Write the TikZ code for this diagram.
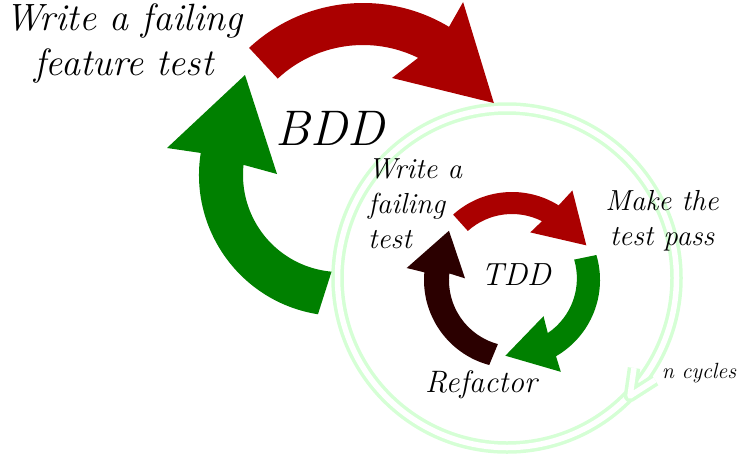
\documentclass[tikz,border=0pt]{standalone}
\usepackage{fontspec}
\definecolor{bddred}{HTML}{AA0000}
\definecolor{bddgreen}{HTML}{008000}
\definecolor{tddbrown}{HTML}{2B0000}
\definecolor{ringgreen}{HTML}{D5FFD5}
\begin{document}
\begin{tikzpicture}[x=1pt,y=-1pt,
  lbl/.style={inner sep=0pt, text=black},
  ring/.style={draw=ringgreen, line width=3.5pt, double=white, double distance=5.5pt},
]
\useasboundingbox (0,0) rectangle (743,453);

% n-cycles ring
\draw[ring] (507,278) circle[radius=169.5];
\draw[ring, line join=round] (655,380) -- (630,396) -- (634,368);

% BDD big arrows
\begin{scope}[shift={(363,170)}]
  \fill[bddred] (-133:167) arc[start angle=-133, end angle=-59, radius=167]
    -- (-59.2:195.5) -- (-27.1:147) -- (-72.5:96.5) -- (-63.8:125)
    arc[start angle=-63.8, end angle=-133, radius=125] -- cycle;
\end{scope}
\begin{scope}[shift={(340,175)}]
  \fill[bddgreen] (99:141) arc[start angle=99, end angle=189, radius=141]
    -- (-173,-27) -- (-95,-100) -- (-63,-1) -- (186:97)
    arc[start angle=186, end angle=95, radius=97] -- cycle;
\end{scope}

% TDD small arrows
\begin{scope}[shift={(512,280)}]
  \fill[bddred] (-132:88) arc[start angle=-132, end angle=-58, radius=88]
    -- (-56:108) -- (-25:82) -- (-69:51) -- (-63:66)
    arc[start angle=-63, end angle=-132, radius=66] -- cycle;
  \fill[bddgreen] (-16.5:88) arc[start angle=-16.5, end angle=60, radius=88]
    -- (62:104) -- (95:76) -- (49:48) -- (56:64)
    arc[start angle=56, end angle=-16.5, radius=66] -- cycle;
  \fill[tddbrown] (105:88) arc[start angle=105, end angle=185, radius=88]
    -- (186.5:106) -- (218:80) -- (182:47) -- (186:63)
    arc[start angle=186, end angle=105, radius=66] -- cycle;
\end{scope}

% labels
\node[lbl, anchor=north, align=center, font=\itshape\fontsize{38}{45}\selectfont] (featuretest) at (124,4) {Write a failing\\feature test};
\node[lbl, anchor=base, font=\itshape\fontsize{50}{60}\selectfont] (bdd) at (330,145) {BDD};
\node[lbl, anchor=north west, align=left, font=\itshape\fontsize{29}{35}\selectfont] (unittest) at (368,158) {Write a\\failing\\test};
\node[lbl, anchor=north, align=center, font=\itshape\fontsize{29}{35}\selectfont] (pass) at (662,190) {Make the\\test pass};
\node[lbl, anchor=base, font=\itshape\fontsize{32}{38}\selectfont] (tdd) at (516,285) {TDD};
\node[lbl, anchor=base, font=\itshape\fontsize{31}{37}\selectfont] (refactor) at (481,392) {Refactor};
\node[lbl, anchor=base, font=\itshape\fontsize{22}{26}\selectfont] (ncycles) at (699,378) {n cycles};
\end{tikzpicture}
\end{document}
